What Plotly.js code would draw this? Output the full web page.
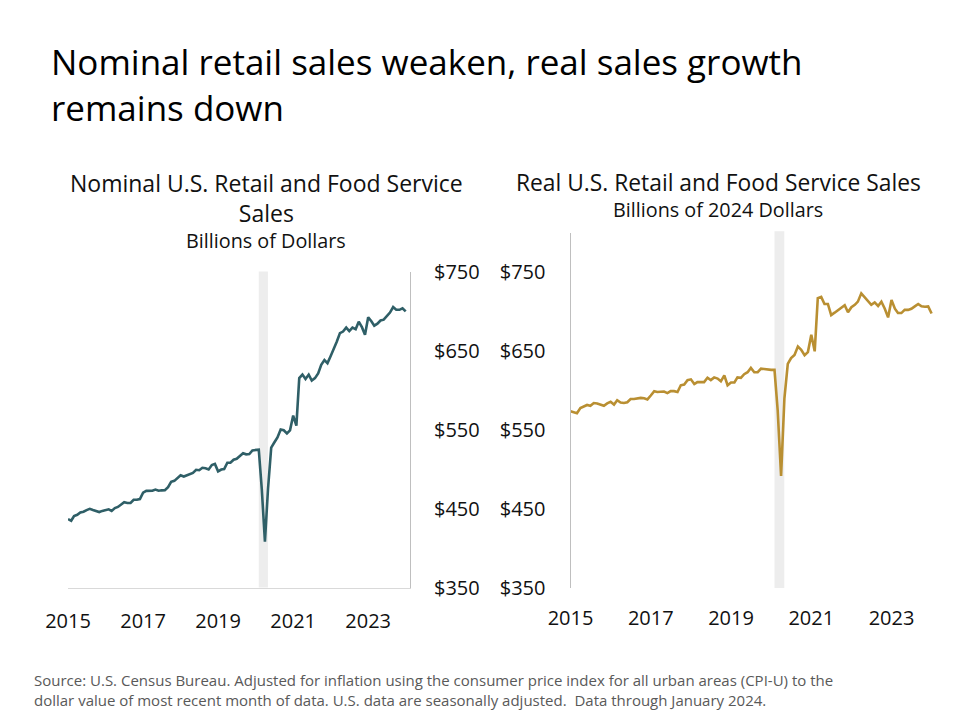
<!DOCTYPE html>
<html>
<head>
<meta charset="utf-8">
<script src="https://cdn.plot.ly/plotly-3.0.1.min.js"></script>
<style>
html,body{margin:0;padding:0;background:#fff;}
#chart{width:960px;height:720px;}
</style>
</head>
<body>
<div id="chart"></div>
<script>
// Monthly series, Jan 2015 through Jan 2024 (billions of dollars)
const startYear = 2015, startMonth = 1, nMonths = 109;

const nominalSales = [
  436.5, 434.5, 440.5, 442, 445, 446, 448, 449.5, 448, 446.5, 445.5, 447,
  448.5, 449, 447, 450.5, 452, 455, 458, 457, 457, 461, 461, 462,
  470, 472.3, 472, 472.5, 474, 472.5, 473, 473.2, 477, 483.7, 485, 489,
  492, 490.4, 492, 493, 495, 499, 498.5, 501.5, 501, 499.5, 505, 506.5,
  497, 499.3, 500, 508, 508, 511.8, 513, 516.5, 520, 518.6, 519, 523.6,
  524.4, 524.5, 475, 408, 475, 527, 533.5, 540, 550, 549, 545, 549,
  567.7, 555, 615, 619.5, 614, 619.5, 612, 615, 621, 632, 638, 634,
  643, 652, 661, 672, 674, 679, 674.5, 679, 677, 686.5, 679.5, 670,
  692, 687, 681.5, 684, 688, 689, 693, 698, 705, 701.5, 701.5, 703.5,
  699.5
];

const realSales = [
  574, 573, 571.5, 578, 580, 582, 581, 584.5, 584, 582.5, 581, 584,
  586, 582.5, 588, 585, 584.5, 585.5, 589.5, 589.5, 590, 591, 590.5, 589,
  594, 599.5, 598.5, 598.5, 599, 597, 599.5, 599.5, 598.5, 607, 608, 613.5,
  614.5, 608.5, 611, 611, 611, 616.5, 613.5, 617, 615.5, 612, 619.5, 607,
  610.5, 610.5, 617, 616.5, 621, 623.5, 629, 623.5, 623.5, 628, 627.5, 626.5,
  626.5, 626.5, 575, 492, 590, 634, 641.5, 645.5, 656, 652, 645, 649,
  671, 650, 717.5, 719, 710, 710, 696, 699, 702, 706, 708.5, 699.5,
  706, 709, 713, 723.5, 718.5, 713, 709, 712, 707.5, 713, 704, 693,
  715, 704, 698.5, 698.5, 702.5, 702.5, 704, 707, 710, 707, 706.5, 707,
  698
];

const yTickVals = [350, 450, 550, 650, 750];
const yTickText = ['$350', '$450', '$550', '$650', '$750'];
const xTickVals = ['2015-01-01', '2017-01-01', '2019-01-01', '2021-01-01', '2023-01-01'];
const xTickText = ['2015', '2017', '2019', '2021', '2023'];
const recession = ['2020-02-01', '2020-04-30'];

const dates = [];
for (let i = 0; i < nMonths; i++) {
  const m0 = startMonth - 1 + i;
  const y = startYear + Math.floor(m0 / 12);
  const m = (m0 % 12) + 1;
  dates.push(y + '-' + String(m).padStart(2, '0') + '-01');
}

const FONT = 'Open Sans, Noto Sans, sans-serif';
const W = 960, H = 720;
const py = v => 1 - v / H;

const traces = [
  {x: dates, y: nominalSales, type: 'scatter', mode: 'lines', xaxis: 'x', yaxis: 'y',
   line: {color: '#2f5f67', width: 2.6}, hoverinfo: 'skip'},
  {x: dates, y: realSales, type: 'scatter', mode: 'lines', xaxis: 'x2', yaxis: 'y2',
   line: {color: '#b98f32', width: 2.6}, hoverinfo: 'skip'}
];

const tickFont = {family: FONT, size: 20, color: '#111'};

const layout = {
  width: W, height: H,
  margin: {l: 0, r: 0, t: 0, b: 0},
  paper_bgcolor: '#fff', plot_bgcolor: 'rgba(0,0,0,0)',
  showlegend: false,
  font: {family: FONT},
  xaxis: {
    domain: [68 / W, 410 / W], type: 'date',
    range: ['2015-01-01', '2024-02-12'],
    tickvals: xTickVals, ticktext: xTickText, tickfont: tickFont,
    showgrid: false, zeroline: false, showline: true, linecolor: '#d9d9d9', linewidth: 1,
    ticks: '', ticklabelstandoff: 15, anchor: 'y'
  },
  yaxis: {
    domain: [py(587.5), py(271.5)], range: [350, 750], side: 'right',
    tickvals: yTickVals, ticktext: yTickText, tickfont: tickFont,
    showgrid: false, zeroline: false, showline: true, linecolor: '#bfbfbf', linewidth: 1,
    ticks: '', ticklabelstandoff: 19, anchor: 'x'
  },
  xaxis2: {
    domain: [570.5 / W, 935 / W], type: 'date',
    range: ['2015-01-01', '2024-02-01'],
    tickvals: xTickVals, ticktext: xTickText, tickfont: tickFont,
    showgrid: false, zeroline: false, showline: false,
    ticks: '', ticklabelstandoff: 16, anchor: 'y2'
  },
  yaxis2: {
    domain: [py(588), py(233)], range: [350, 800], side: 'left',
    tickvals: yTickVals, ticktext: yTickText, tickfont: tickFont,
    showgrid: false, zeroline: false, showline: true, linecolor: '#bfbfbf', linewidth: 1,
    ticks: '', ticklabelstandoff: 20, anchor: 'x2'
  },
  shapes: [
    {type: 'rect', layer: 'below', xref: 'x', yref: 'y domain', x0: recession[0], x1: recession[1],
     y0: 0, y1: 1, fillcolor: '#ededed', line: {width: 0}},
    {type: 'rect', layer: 'below', xref: 'x2', yref: 'y2 domain', x0: recession[0], x1: recession[1],
     y0: 0, y1: 1.005, fillcolor: '#ededed', line: {width: 0}}
  ],
  annotations: [
    {text: 'Nominal retail sales weaken, real sales growth<br>remains down', xref: 'paper', yref: 'paper',
     x: 49 / W, y: py(84.5), xanchor: 'left', yanchor: 'middle', align: 'left', showarrow: false,
     font: {family: FONT, size: 35, color: '#000'}},
    {text: 'Nominal U.S. Retail and Food Service<br>Sales', xref: 'paper', yref: 'paper',
     x: 266 / W, y: py(198), xanchor: 'center', yanchor: 'middle', align: 'center', showarrow: false,
     font: {family: FONT, size: 23, color: '#111'}},
    {text: 'Billions of Dollars', xref: 'paper', yref: 'paper',
     x: 266 / W, y: py(241), xanchor: 'center', yanchor: 'middle', showarrow: false,
     font: {family: FONT, size: 19.8, color: '#111'}},
    {text: 'Real U.S. Retail and Food Service Sales', xref: 'paper', yref: 'paper',
     x: 718 / W, y: py(182), xanchor: 'center', yanchor: 'middle', showarrow: false,
     font: {family: FONT, size: 22.8, color: '#111'}},
    {text: 'Billions of 2024 Dollars', xref: 'paper', yref: 'paper',
     x: 718 / W, y: py(209), xanchor: 'center', yanchor: 'middle', showarrow: false,
     font: {family: FONT, size: 19.8, color: '#111'}},
    {text: 'Source: U.S. Census Bureau. Adjusted for inflation using the consumer price index for all urban areas (CPI-U) to the<br>dollar value of most recent month of data. U.S. data are seasonally adjusted.  Data through January 2024.',
     xref: 'paper', yref: 'paper', x: 32 / W, y: py(690), xanchor: 'left', yanchor: 'middle', align: 'left', showarrow: false,
     font: {family: FONT, size: 15, color: '#595959'}}
  ]
};

Plotly.newPlot('chart', traces, layout, {staticPlot: true, displayModeBar: false});
</script>
</body>
</html>
